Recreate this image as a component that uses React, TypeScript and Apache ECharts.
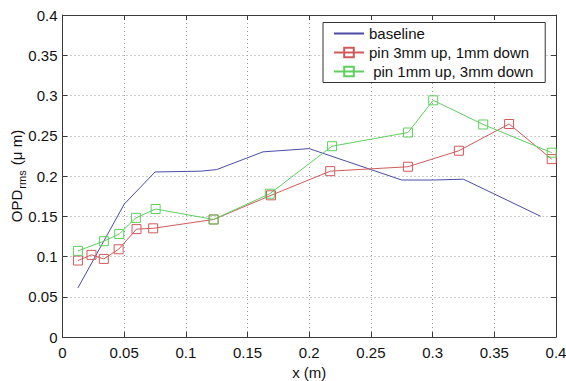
import React, { useEffect, useRef } from "react";
import * as echarts from "echarts";

const xTicks = [0, 0.05, 0.1, 0.15, 0.2, 0.25, 0.3, 0.35, 0.4];
const yTicks = [0, 0.05, 0.1, 0.15, 0.2, 0.25, 0.3, 0.35, 0.4];

const baselineX = [0.0125, 0.05, 0.075, 0.1125, 0.125, 0.1625, 0.2, 0.275, 0.3, 0.325, 0.3875];
const baselineY = [0.061, 0.165, 0.205, 0.206, 0.208, 0.23, 0.234, 0.195, 0.195, 0.196, 0.15];

const redX = [0.0125, 0.0235, 0.0335, 0.0455, 0.06, 0.0735, 0.1225, 0.169, 0.217, 0.28, 0.3213, 0.362, 0.3965];
const redY = [0.095, 0.102, 0.097, 0.109, 0.134, 0.135, 0.146, 0.176, 0.206, 0.2115, 0.2314, 0.2646, 0.221];

const greenX = [0.0125, 0.0335, 0.046, 0.0595, 0.0755, 0.1225, 0.168, 0.2185, 0.28, 0.3005, 0.341, 0.3965];
const greenY = [0.107, 0.119, 0.128, 0.148, 0.159, 0.146, 0.178, 0.237, 0.254, 0.294, 0.264, 0.229];

const seriesNames = ["baseline", "pin 3mm up, 1mm down", " pin 1mm up, 3mm down"];

const FONT = "'Liberation Sans', Arial, sans-serif";
const AXIS_COLOR = "#3a3a3a";
const BLUE = "#4b4ba8";
const RED = "#d05a5a";
const GREEN = "#5fcf5f";

function pairs(xs: number[], ys: number[]) {
  return xs.map((x, i) => [x, ys[i]]);
}

export default function App() {
  const ref = useRef<HTMLDivElement>(null);
  useEffect(() => {
    document.body.style.margin = "0";
    const chart = echarts.init(ref.current!, null, { renderer: "svg" });
    const splitLine = { show: true, lineStyle: { color: "#9a9a9a", type: [1, 3] as any, width: 1 } };
    const tick = { show: true, inside: true, length: 5, lineStyle: { color: AXIS_COLOR } };
    const axisLine = { show: true, onZero: false, lineStyle: { color: AXIS_COLOR, width: 1 } };
    chart.setOption({
      animation: false,
      backgroundColor: "#ffffff",
      textStyle: { fontFamily: FONT },
      grid: { left: 62.5, top: 15, right: 10, bottom: 44, show: false, containLabel: false, outerBoundsMode: "none" },
      legend: {
        orient: "vertical",
        left: 323,
        top: 22.5,
        align: "left",
        itemWidth: 30,
        itemHeight: 12,
        itemGap: 3,
        padding: [3, 12, 3, 10],
        borderColor: "#333",
        borderWidth: 1,
        backgroundColor: "#ffffff",
        textStyle: { fontSize: 15, lineHeight: 16, color: "#111", fontFamily: FONT },
        data: [
          { name: seriesNames[0], itemStyle: { color: "rgba(0,0,0,0)", borderWidth: 0, opacity: 0 } },
          { name: seriesNames[1] },
          { name: seriesNames[2] },
        ],
      },
      xAxis: [
        {
          type: "value",
          min: 0,
          max: 0.4,
          interval: 0.05,
          position: "bottom",
          name: "x (m)",
          nameLocation: "middle",
          nameGap: 28,
          nameMoveOverlap: false,
          nameTextStyle: { fontSize: 15, color: "#111", fontFamily: FONT },
          axisLine,
          axisTick: tick,
          splitLine,
          axisLabel: {
            fontSize: 15,
            color: "#111",
            margin: 8,
            fontFamily: FONT,
            formatter: (v: number) => String(xTicks.find((t) => Math.abs(t - v) < 1e-9) ?? v),
          },
        },
        {
          type: "value",
          min: 0,
          max: 0.4,
          interval: 0.05,
          position: "top",
          axisLine,
          axisTick: tick,
          splitLine: { show: false },
          axisLabel: { show: false },
        },
      ],
      yAxis: [
        {
          type: "value",
          min: 0,
          max: 0.4,
          interval: 0.05,
          position: "left",
          name: "{a|OPD}{b|rms}{a| (μ m)}",
          nameLocation: "middle",
          nameGap: 38,
          nameMoveOverlap: false,
          nameTextStyle: {
            fontFamily: FONT,
            rich: {
              a: { fontSize: 15, color: "#111", fontFamily: FONT, lineHeight: 16, verticalAlign: "top" },
              b: { fontSize: 11, color: "#111", fontFamily: FONT, lineHeight: 12, padding: [8, 1, 0, 1], verticalAlign: "top" },
            },
          },
          axisLine,
          axisTick: tick,
          splitLine,
          axisLabel: {
            fontSize: 15,
            color: "#111",
            margin: 5,
            fontFamily: FONT,
            formatter: (v: number) => String(yTicks.find((t) => Math.abs(t - v) < 1e-9) ?? v),
          },
        },
        {
          type: "value",
          min: 0,
          max: 0.4,
          interval: 0.05,
          position: "right",
          axisLine,
          axisTick: tick,
          splitLine: { show: false },
          axisLabel: { show: false },
        },
      ],
      series: [
        {
          name: seriesNames[0],
          type: "line",
          data: pairs(baselineX, baselineY),
          symbol: "none",
          lineStyle: { color: BLUE, width: 1 },
          itemStyle: { color: BLUE },
        },
        {
          name: seriesNames[1],
          type: "line",
          data: pairs(redX, redY),
          symbol: "rect",
          symbolSize: 9,
          showAllSymbol: true,
          lineStyle: { color: RED, width: 1 },
          itemStyle: { color: "rgba(255,255,255,0)", borderColor: RED, borderWidth: 1 },
        },
        {
          name: seriesNames[2],
          type: "line",
          data: pairs(greenX, greenY),
          symbol: "rect",
          symbolSize: 9,
          showAllSymbol: true,
          lineStyle: { color: GREEN, width: 1 },
          itemStyle: { color: "rgba(255,255,255,0)", borderColor: GREEN, borderWidth: 1 },
        },
      ],
    });
    return () => chart.dispose();
  }, []);
  return <div ref={ref} style={{ width: 566, height: 381 }} />;
}
